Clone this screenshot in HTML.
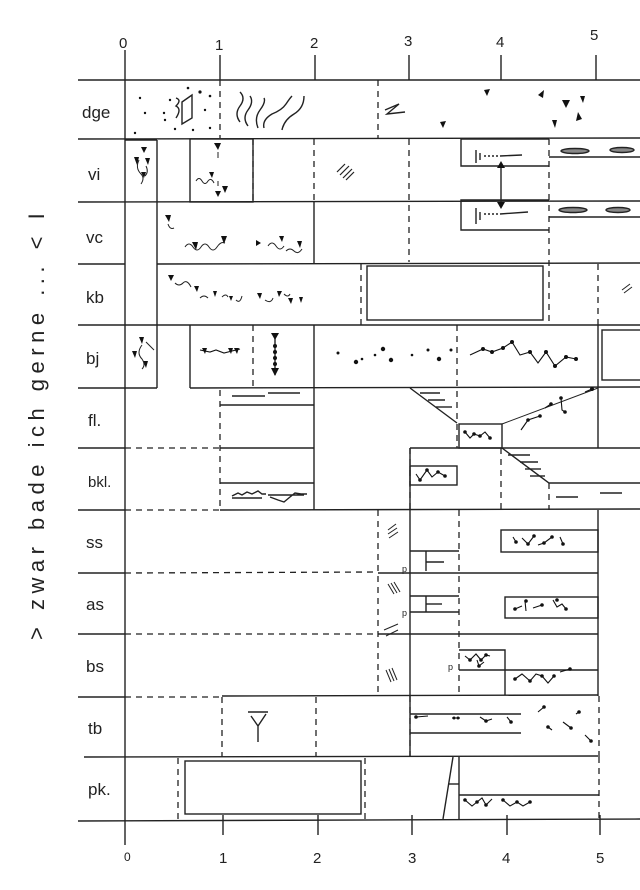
<!DOCTYPE html>
<html><head><meta charset="utf-8"><style>
html,body{margin:0;padding:0;background:#fff;}
svg{display:block;}
text{font-family:"Liberation Sans",sans-serif;fill:#222;}
</style></head><body>
<svg width="640" height="890" viewBox="0 0 640 890" xmlns="http://www.w3.org/2000/svg">
<g stroke="#222" stroke-width="1.4" fill="none">
<line x1="125" y1="50" x2="125" y2="845"/>
<line x1="220" y1="55" x2="220" y2="80"/>
<line x1="315" y1="55" x2="315" y2="80"/>
<line x1="409" y1="55" x2="409" y2="80"/>
<line x1="501" y1="55" x2="501" y2="80"/>
<line x1="596" y1="55" x2="596" y2="80"/>
<line x1="78" y1="80" x2="640" y2="80"/>
<line x1="78" y1="139" x2="640" y2="138"/>
<line x1="78" y1="202" x2="640" y2="201"/>
<line x1="78" y1="264" x2="125" y2="264"/><line x1="157" y1="264" x2="640" y2="263"/>
<line x1="78" y1="325" x2="640" y2="325"/>
<line x1="78" y1="388" x2="157" y2="388"/><line x1="190" y1="388" x2="640" y2="387"/>
<line x1="78" y1="448" x2="125" y2="448"/><line x1="220" y1="448" x2="314" y2="448"/><line x1="410" y1="448" x2="640" y2="448"/>
<line x1="78" y1="510" x2="125" y2="510"/><line x1="220" y1="510" x2="640" y2="509"/>
<line x1="78" y1="573" x2="125" y2="573"/><line x1="378" y1="573" x2="598" y2="573"/>
<line x1="78" y1="634" x2="125" y2="634"/><line x1="378" y1="634" x2="598" y2="634"/>
<line x1="78" y1="697" x2="125" y2="697"/><line x1="222" y1="696" x2="598" y2="695"/>
<line x1="84" y1="757" x2="598" y2="756"/>
<line x1="78" y1="821" x2="640" y2="819"/>
<line x1="223" y1="815" x2="223" y2="835"/>
<line x1="318" y1="815" x2="318" y2="835"/>
<line x1="412" y1="815" x2="412" y2="835"/>
<line x1="507" y1="815" x2="507" y2="835"/>
<line x1="600" y1="815" x2="600" y2="835"/>
</g>
<g stroke="#222" stroke-width="1.3" fill="none" stroke-dasharray="6,5">
<line x1="220" y1="80" x2="220" y2="138"/>
<line x1="378" y1="80" x2="378" y2="138"/>
<line x1="253" y1="139" x2="253" y2="202"/>
<line x1="314" y1="139" x2="314" y2="202"/>
<line x1="409" y1="139" x2="409" y2="262"/>
<line x1="549" y1="139" x2="549" y2="325"/>
<line x1="361" y1="264" x2="361" y2="325"/>
<line x1="598" y1="264" x2="598" y2="325"/>
<line x1="253" y1="325" x2="253" y2="388"/>
<line x1="457" y1="325" x2="457" y2="448"/>
<line x1="220" y1="390" x2="220" y2="510"/>
<line x1="125" y1="448" x2="220" y2="448"/>
<line x1="125" y1="510" x2="220" y2="510"/>
<line x1="549" y1="483" x2="549" y2="510"/>
<line x1="501" y1="448" x2="501" y2="510"/>
<line x1="410" y1="448" x2="410" y2="510"/>
<line x1="378" y1="510" x2="378" y2="696"/>
<line x1="459" y1="510" x2="459" y2="696"/>
<line x1="125" y1="573" x2="378" y2="572"/>
<line x1="125" y1="634" x2="378" y2="634"/>
<line x1="125" y1="697" x2="222" y2="697"/>
<line x1="222" y1="697" x2="222" y2="757"/>
<line x1="316" y1="697" x2="316" y2="757"/>
<line x1="410" y1="696" x2="410" y2="757"/>
<line x1="599" y1="696" x2="599" y2="757"/>
<line x1="599" y1="757" x2="599" y2="819"/>
<line x1="178" y1="758" x2="178" y2="819"/>
<line x1="365" y1="758" x2="365" y2="819"/>
</g>
<g stroke="#222" stroke-width="1.4" fill="none">
<line x1="157" y1="140" x2="157" y2="388"/>
<line x1="125" y1="140" x2="157" y2="140"/>
<rect x="190" y="139" width="63" height="63"/>
<line x1="314" y1="202" x2="314" y2="264"/>
<polyline points="549,139 461,139 461,166 549,166"/>
<polyline points="549,200 461,200 461,230 549,230"/>
<line x1="549" y1="157" x2="640" y2="157"/>
<line x1="549" y1="217" x2="640" y2="217"/>
<line x1="501" y1="163" x2="501" y2="206"/>
<rect x="367" y="266" width="176" height="54"/>
<line x1="190" y1="325" x2="190" y2="388"/>
<line x1="314" y1="325" x2="314" y2="388"/>
<line x1="598" y1="325" x2="598" y2="448"/>
<rect x="602" y="330" width="40" height="50"/>
<line x1="220" y1="405" x2="314" y2="405"/>
<line x1="314" y1="388" x2="314" y2="448"/>
<polyline points="410,388 457,423"/>
<rect x="459" y="424" width="43" height="24"/>
<line x1="502" y1="424" x2="598" y2="388" stroke-width="1"/>
<line x1="220" y1="483" x2="314" y2="483"/>
<line x1="314" y1="448" x2="314" y2="510"/>
<line x1="410" y1="448" x2="410" y2="757"/>
<rect x="410" y="466" width="47" height="19"/>
<polyline points="502,448 549,483 640,483"/>
<rect x="501" y="530" width="97" height="22"/>
<rect x="505" y="597" width="93" height="21"/>
<polyline points="459,650 505,650 505,695"/>
<line x1="459" y1="670" x2="598" y2="670"/>
<line x1="598" y1="510" x2="598" y2="696"/>
<polyline points="410,551 459,551"/><line x1="426" y1="551" x2="426" y2="571"/><line x1="426" y1="562" x2="444" y2="562"/>
<polyline points="410,612 459,612"/><polyline points="410,596 459,596"/><line x1="426" y1="596" x2="426" y2="612"/><line x1="426" y1="604" x2="442" y2="604"/>
<line x1="410" y1="714" x2="521" y2="714"/>
<line x1="410" y1="733" x2="521" y2="733"/>
<rect x="185" y="761" width="176" height="53"/>
<line x1="453" y1="757" x2="443" y2="819"/>
<line x1="449" y1="784" x2="459" y2="784"/>
<line x1="459" y1="757" x2="459" y2="819"/>
<line x1="459" y1="795" x2="599" y2="795"/>
<polygon points="182,102 192,95 192,118 182,124"/>
<path d="M176,98 q6,2 0,8 q6,3 0,12"/>
<path d="M240,122 q-6,-8 0,-16 q6,-8 0,-14"/>
<path d="M248,126 q-6,-8 0,-16 q6,-8 2,-14"/>
<path d="M258,128 q-4,-10 2,-18 q6,-8 4,-12"/>
<path d="M264,128 q-2,-8 8,-14 q10,-4 14,-10 q4,-6 6,-8"/>
<path d="M282,130 q2,-10 12,-16 q10,-6 10,-18"/>
<path d="M385,110 l14,-6 l-12,10 l18,-2" />
<g stroke-width="1.2"><line x1="337" y1="172" x2="345" y2="164"/><line x1="340" y1="175" x2="349" y2="166"/><line x1="343" y1="178" x2="352" y2="169"/><line x1="346" y1="180" x2="354" y2="172"/></g>
<g stroke-width="1"><line x1="388" y1="530" x2="396" y2="524"/><line x1="388" y1="534" x2="397" y2="528"/><line x1="389" y1="538" x2="398" y2="532"/>
<line x1="388" y1="584" x2="394" y2="594"/><line x1="391" y1="583" x2="397" y2="593"/><line x1="394" y1="582" x2="400" y2="592"/>
<line x1="384" y1="630" x2="398" y2="624"/><line x1="386" y1="636" x2="398" y2="630"/>
<line x1="386" y1="670" x2="391" y2="682"/><line x1="389" y1="669" x2="394" y2="681"/><line x1="392" y1="668" x2="397" y2="680"/>
<line x1="622" y1="290" x2="630" y2="284"/><line x1="624" y1="293" x2="632" y2="287"/></g>
<line x1="420" y1="393" x2="440" y2="393"/><line x1="428" y1="400" x2="445" y2="400"/><line x1="436" y1="407" x2="452" y2="407"/>
<line x1="508" y1="455" x2="530" y2="455"/><line x1="520" y1="462" x2="538" y2="462"/><line x1="525" y1="469" x2="541" y2="469"/><line x1="530" y1="476" x2="545" y2="476"/>
<line x1="556" y1="497" x2="578" y2="497"/><line x1="600" y1="493" x2="622" y2="493"/>
<line x1="232" y1="396" x2="265" y2="396"/><line x1="268" y1="393" x2="300" y2="393"/>
<line x1="476" y1="150" x2="476" y2="163"/><line x1="480" y1="153" x2="480" y2="160"/><line x1="484" y1="156" x2="500" y2="156" stroke-dasharray="2,2"/><line x1="500" y1="156" x2="522" y2="155"/>
<line x1="476" y1="208" x2="476" y2="224"/><line x1="480" y1="212" x2="480" y2="220"/><line x1="484" y1="214" x2="500" y2="214" stroke-dasharray="2,2"/><line x1="500" y1="214" x2="528" y2="212"/>
<ellipse cx="575" cy="151" rx="14" ry="2.5" fill="#888"/><ellipse cx="622" cy="150" rx="12" ry="2.5" fill="#888"/>
<ellipse cx="573" cy="210" rx="14" ry="2.5" fill="#888"/><ellipse cx="618" cy="210" rx="12" ry="2.5" fill="#888"/>
<line x1="275" y1="333" x2="275" y2="375"/>
<path d="M248,712 h20 M251,716 l7,10 l8,-12 M258,726 v16"/>
<path d="M232,496 l6,-3 l4,2 l5,-3 l5,2 l6,-3 l4,3 l4,0 M232,498 h30"/>
<path d="M270,497 l8,3 l6,2 l6,-5 l5,-4 l6,1 l6,0 M268,495 h36"/>
</g>
<g stroke="#111" stroke-width="1.1" fill="none">
<path d="M470,355 L483,349 492,352 503,348 512,342 520,355 530,352 538,363 546,352 555,366 566,357 576,359"/>
<path d="M465,432 L470,438 474,434 480,436 485,432 490,438"/>
<path d="M521,430 L528,420 540,416 M545,408 L551,404 M561,398 L562,410 565,412 M585,392 L592,389"/>
<path d="M416,474 L420,480 427,470 432,477 438,472 445,476"/>
<path d="M513,537 L516,542 M522,538 L528,544 534,536 M538,545 L544,543 552,537 M560,537 L563,544"/>
<path d="M515,609 L522,606 M525,601 L526,611 M533,608 L542,605 M553,600 L557,607 562,604 566,609"/>
<path d="M465,656 L470,660 476,654 481,660 486,655 490,656 M477,660 L479,666 484,662"/>
<path d="M515,679 L522,674 530,681 536,674 542,676 548,683 554,676 M560,672 L570,669"/>
<path d="M416,717 L428,716 M452,718 L460,718 M480,717 L486,721 492,719 M507,717 L511,722"/>
<path d="M465,800 L472,806 477,802 482,798 486,805 492,799 M503,800 L510,806 517,802 523,806 530,802"/>
<path d="M538,712 L544,707 M548,727 L552,730 M563,722 L571,728 M576,714 L579,712 M585,735 L591,741"/>
<path d="M200,350 L210,352 216,350 224,353 232,351 240,349"/>
</g>
<g fill="#111">
<circle cx="483" cy="349" r="2"/><circle cx="492" cy="352" r="2"/><circle cx="503" cy="348" r="2"/><circle cx="512" cy="342" r="2"/><circle cx="530" cy="352" r="2"/><circle cx="546" cy="352" r="2"/><circle cx="555" cy="366" r="2"/><circle cx="566" cy="357" r="2"/><circle cx="576" cy="359" r="2"/>
<circle cx="338" cy="353" r="1.5"/><circle cx="356" cy="362" r="2.2"/><circle cx="375" cy="355" r="1.3"/><circle cx="383" cy="349" r="2.2"/><circle cx="391" cy="360" r="2.2"/><circle cx="412" cy="355" r="1.3"/><circle cx="428" cy="350" r="1.5"/><circle cx="439" cy="359" r="2.2"/><circle cx="451" cy="350" r="1.5"/><circle cx="362" cy="359" r="1.3"/>
<circle cx="465" cy="432" r="1.8"/><circle cx="474" cy="434" r="1.8"/><circle cx="480" cy="436" r="1.8"/><circle cx="490" cy="438" r="1.8"/>
<circle cx="528" cy="420" r="1.8"/><circle cx="540" cy="416" r="1.8"/><circle cx="551" cy="404" r="1.8"/><circle cx="565" cy="412" r="1.8"/><circle cx="561" cy="398" r="1.8"/><circle cx="592" cy="389" r="2"/>
<circle cx="420" cy="480" r="1.8"/><circle cx="427" cy="470" r="1.8"/><circle cx="438" cy="472" r="1.8"/><circle cx="445" cy="476" r="1.8"/>
<circle cx="516" cy="542" r="1.8"/><circle cx="528" cy="544" r="1.8"/><circle cx="534" cy="536" r="1.8"/><circle cx="544" cy="543" r="1.8"/><circle cx="552" cy="537" r="1.8"/><circle cx="563" cy="544" r="1.8"/>
<circle cx="515" cy="609" r="1.8"/><circle cx="526" cy="601" r="1.8"/><circle cx="542" cy="605" r="1.8"/><circle cx="557" cy="600" r="1.8"/><circle cx="566" cy="609" r="1.8"/>
<circle cx="470" cy="660" r="1.8"/><circle cx="481" cy="660" r="1.8"/><circle cx="486" cy="655" r="1.8"/><circle cx="479" cy="666" r="1.8"/>
<circle cx="515" cy="679" r="1.8"/><circle cx="530" cy="681" r="1.8"/><circle cx="542" cy="676" r="1.8"/><circle cx="554" cy="676" r="1.8"/><circle cx="570" cy="669" r="1.8"/>
<circle cx="416" cy="717" r="1.8"/><circle cx="454" cy="718" r="1.5"/><circle cx="458" cy="718" r="1.5"/><circle cx="486" cy="721" r="1.8"/><circle cx="511" cy="722" r="1.8"/>
<circle cx="465" cy="800" r="1.8"/><circle cx="477" cy="802" r="1.8"/><circle cx="486" cy="805" r="1.8"/><circle cx="503" cy="800" r="1.8"/><circle cx="517" cy="802" r="1.8"/><circle cx="530" cy="802" r="1.8"/>
<circle cx="544" cy="707" r="1.8"/><circle cx="548" cy="727" r="1.8"/><circle cx="571" cy="728" r="1.8"/><circle cx="579" cy="712" r="1.8"/><circle cx="591" cy="741" r="1.8"/>
<polygon points="271,333 279,333 275,340"/><polygon points="271,368 279,368 275,376"/>
<circle cx="275" cy="346" r="2"/><circle cx="275" cy="352" r="2"/><circle cx="275" cy="358" r="2"/><circle cx="275" cy="364" r="2"/>
<polygon points="497,168 505,168 501,161"/><polygon points="497,202 505,202 501,209"/>
<polygon points="484,90 490,89 487,96"/><polygon points="440,122 446,121 443,128"/><polygon points="538,95 544,90 543,98"/><polygon points="562,100 570,100 566,108"/><polygon points="552,120 557,120 555,128"/><polygon points="580,96 585,96 583,103"/><polygon points="578,112 582,119 576,121"/>
<circle cx="140" cy="98" r="1.2"/><circle cx="145" cy="113" r="1.2"/><circle cx="164" cy="113" r="1.2"/><circle cx="170" cy="100" r="1.2"/><circle cx="165" cy="120" r="1.2"/><circle cx="200" cy="92" r="1.6"/><circle cx="210" cy="96" r="1.3"/><circle cx="205" cy="110" r="1.2"/><circle cx="210" cy="128" r="1.2"/><circle cx="188" cy="88" r="1.3"/><circle cx="193" cy="130" r="1.2"/><circle cx="135" cy="133" r="1.2"/><circle cx="175" cy="129" r="1.2"/>
<polygon points="141,147 147,147 144,153"/><polygon points="134,157 139,157 137,165"/><polygon points="145,158 150,158 148,165"/><polygon points="141,172 146,172 144,178"/>
<polygon points="214,143 221,143 218,150"/><polygon points="222,186 228,186 225,193"/><polygon points="215,191 221,191 218,197"/><polygon points="209,172 214,172 212,178"/>
<polygon points="165,215 171,215 169,222"/><polygon points="192,242 198,242 196,250"/><polygon points="221,236 227,236 224,244"/><polygon points="256,240 261,243 256,246"/><polygon points="279,236 284,236 282,242"/><polygon points="297,241 302,241 300,248"/>
<polygon points="168,275 174,275 171,281"/><polygon points="194,286 199,286 197,292"/><polygon points="213,291 217,291 215,297"/><polygon points="229,296 233,296 231,301"/><polygon points="257,293 262,293 260,299"/><polygon points="277,291 282,291 279,297"/><polygon points="288,298 293,298 291,304"/><polygon points="299,297 303,297 301,303"/>
<polygon points="139,337 144,337 142,344"/><polygon points="132,351 137,351 135,358"/><polygon points="143,361 148,361 146,368"/>
<polygon points="202,348 207,348 205,354"/><polygon points="228,348 233,348 231,354"/><polygon points="234,348 239,348 237,354"/>
</g>
<g stroke="#222" stroke-width="1" fill="none">
<path d="M139,160 q-4,8 2,14 q4,4 0,10 M146,166 q3,6 -1,10"/>
<path d="M196,181 q3,-5 6,0 q3,5 6,0 q3,-4 6,2 M218,152 v6 M218,181 v5"/>
<path d="M168,224 q2,6 6,4 M185,247 q4,-6 8,0 q4,6 8,0 q4,-6 8,0 q4,6 8,0 q4,-6 8,-4 M268,246 q4,-6 8,0 q4,6 8,0 M286,251 q4,-4 8,0 q4,4 8,-2"/>
<path d="M175,283 q4,4 8,0 q4,-4 8,4 M200,298 q4,-4 8,0 M222,297 q4,-4 6,0 M236,300 q4,4 6,-4 M265,300 q6,4 8,-2 M284,294 q4,4 6,0"/>
<path d="M142,345 q-6,8 0,14 q4,6 0,10 M146,342 q4,4 8,8"/>
</g>
<g font-size="17">
<text x="82" y="118">dge</text>
<text x="88" y="180">vi</text>
<text x="86" y="243">vc</text>
<text x="86" y="303">kb</text>
<text x="86" y="364">bj</text>
<text x="88" y="426">fl.</text>
<text x="88" y="487" font-size="15">bkl.</text>
<text x="86" y="548">ss</text>
<text x="86" y="610">as</text>
<text x="86" y="672">bs</text>
<text x="88" y="734">tb</text>
<text x="88" y="795">pk.</text>
</g>
<g font-size="15">
<text x="119" y="48">0</text><text x="215" y="50">1</text><text x="310" y="48">2</text><text x="404" y="46">3</text><text x="496" y="47">4</text><text x="590" y="40">5</text>
<text x="124" y="861" font-size="12">0</text><text x="219" y="863">1</text><text x="313" y="863">2</text><text x="408" y="863">3</text><text x="502" y="863">4</text><text x="596" y="863">5</text>
</g>
<g font-size="9"><text x="402" y="572">p</text><text x="402" y="616">p</text><text x="448" y="670">p</text></g>
<text transform="translate(44,640) rotate(-90)" font-size="22" letter-spacing="5.5" fill="#333">&gt; zwar  bade  ich  gerne ... &lt; I</text>
</svg>
</body></html>
